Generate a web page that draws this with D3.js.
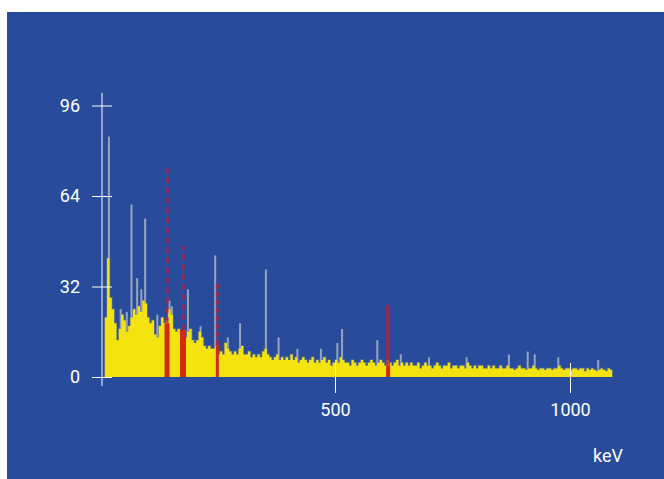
<!DOCTYPE html>
<html>
<head>
<meta charset="utf-8">
<script src="https://cdn.jsdelivr.net/npm/d3@7"></script>
<style>
  html, body { margin: 0; padding: 0; background: #fff; }
  svg { display: block; font-family: Roboto, 'Liberation Sans', sans-serif; }
</style>
</head>
<body>
<svg id="chart" width="664" height="479"></svg>
<script>
// spectrum continuum, 5 keV bins starting at 10 keV
const binStart = 10;
const binWidth = 5;
const counts = [
  21, 42, 28, 24, 19, 13, 17, 22, 20, 16,
  18, 21, 24, 22, 25, 23, 27, 26, 21, 19,
  20, 15, 14, 18, 21, 19, 20, 24, 22, 17,
  16, 17, 15, 16, 14, 16, 17, 13, 12, 13,
  16, 14, 11, 10, 11, 10, 10, 11, 8, 9,
  8, 12, 10, 9, 8, 9, 8, 10, 11, 8,
  8, 9, 7, 8, 7, 8, 7, 9, 10, 8,
  7, 6, 7, 8, 6, 7, 6, 7, 6, 8,
  6, 7, 5, 6, 7, 6, 5, 6, 7, 5,
  6, 5, 6, 7, 5, 6, 4, 5, 6, 5,
  7, 6, 5, 5, 4, 6, 5, 4, 5, 6,
  5, 4, 5, 6, 5, 4, 5, 6, 5, 4,
  6, 5, 4, 5, 6, 4, 5, 4, 5, 4,
  5, 4, 4, 5, 3, 4, 5, 4, 4, 3,
  4, 5, 4, 3, 4, 4, 5, 3, 4, 4,
  3, 4, 4, 3, 5, 4, 3, 4, 3, 4,
  4, 3, 3, 4, 3, 4, 3, 3, 4, 3,
  3, 4, 3, 3, 2.5, 3, 4, 3, 3, 2.5,
  3, 3, 4, 3, 2.5, 3, 3, 2.5, 3, 3,
  2.5, 3, 3, 4, 3, 2.5, 3, 3, 2.5, 3,
  3, 2.5, 3, 3, 2, 3, 2.5, 3, 2.5, 2,
  2.5, 3, 2.5, 2, 3, 2.5
];

// narrow peaks (grey spikes)
const peakEnergies = [19, 44, 57, 67, 79, 88, 96, 122, 148, 153, 187, 214, 245, 272, 298, 353, 380, 420, 470, 505, 515, 590, 640, 700, 780, 870, 910, 925, 975, 1060];
const peakCounts = [85, 24, 23, 61, 35, 31, 56, 22, 27, 25, 31, 18, 43, 14, 19, 38, 14, 10, 10, 12, 17, 13, 8, 7, 7, 8, 9, 8, 7, 6];

// identified lines (red)
const lineEnergies = [142.6, 176.6, 249.6, 613];
const lineBase = [19, 16.6, 11.3, 4];
const lineTop = [74, 46.6, 34, 25.4];

const xTicks = [500, 1000];
const yTicks = [0, 32, 64, 96];
const xUnit = 'keV';

// styles
const colors = {
  bg: '#284c9b',
  fill: '#f4e30f',
  edge: '#8c9486',
  peak: '#b9c1cc',
  red: '#d2290f',
  redThin: '#b01f45',
  axis: '#ffffff'
};
const redWidths = [5, 6, 3, 4];
const redDash = ['6,4', '6,4', '5,3', null];

const svg = d3.select('#chart');

svg.append('rect')
  .attr('x', 7).attr('y', 12)
  .attr('width', 657).attr('height', 467)
  .attr('fill', colors.bg);

const x = d3.scaleLinear().domain([0, 1100]).range([100, 617]);
const y = d3.scaleLinear().domain([0, 96]).range([377, 105.5]);

// grey spikes behind the continuum
svg.append('g')
  .selectAll('line')
  .data(peakEnergies)
  .join('line')
  .attr('x1', d => x(d)).attr('x2', d => x(d))
  .attr('y1', y(0))
  .attr('y2', (d, i) => y(peakCounts[i]))
  .attr('stroke', colors.peak)
  .attr('stroke-opacity', 0.75)
  .attr('stroke-width', 2);

const bins = counts.map((c, i) => ({ e: binStart + i * binWidth, c }));
bins.push({ e: binStart + counts.length * binWidth, c: counts[counts.length - 1] });

const area = d3.area()
  .curve(d3.curveStepAfter)
  .x(d => x(d.e))
  .y0(y(0))
  .y1(d => y(d.c));

// soft darker fringe along the top of the continuum
svg.append('path')
  .datum(bins)
  .attr('fill', 'none')
  .attr('stroke', colors.edge)
  .attr('stroke-opacity', 0.5)
  .attr('stroke-width', 1.5)
  .attr('d', area.lineY1());

svg.append('path')
  .datum(bins)
  .attr('fill', colors.fill)
  .attr('d', area);

// red lines: thin upper part then thick base
const red = svg.append('g');
lineEnergies.forEach((e, i) => {
  red.append('line')
    .attr('x1', x(e)).attr('x2', x(e))
    .attr('y1', y(lineBase[i])).attr('y2', y(lineTop[i]))
    .attr('stroke', colors.redThin)
    .attr('stroke-width', redDash[i] ? 3 : redWidths[i])
    .attr('stroke-opacity', 0.8)
    .attr('stroke-dasharray', redDash[i]);
  red.append('line')
    .attr('x1', x(e)).attr('x2', x(e))
    .attr('y1', y(0)).attr('y2', y(lineBase[i]))
    .attr('stroke', colors.red)
    .attr('stroke-width', redWidths[i]);
});

// y axis
const yAxis = d3.axisLeft(y)
  .tickValues(yTicks)
  .tickSizeInner(10)
  .tickSizeOuter(0)
  .tickPadding(12);

const gy = svg.append('g')
  .attr('transform', 'translate(102,0)')
  .call(yAxis);
gy.select('.domain').remove();
gy.selectAll('.tick line').attr('x1', 10).attr('x2', -10).attr('stroke', colors.axis);
gy.selectAll('.tick text').attr('fill', colors.axis).style('font-size', '18px').style('font-family', 'Roboto');
gy.append('line')
  .attr('y1', y(100.5)).attr('y2', y(-3.2))
  .attr('stroke', colors.axis);

// x axis: ticks only
const xAxis = d3.axisBottom(x)
  .tickValues(xTicks)
  .tickFormat(d3.format('d'))
  .tickSizeInner(15)
  .tickSizeOuter(0)
  .tickPadding(10);

const gx = svg.append('g')
  .attr('transform', `translate(0,${y(0) + 1})`)
  .call(xAxis);
gx.select('.domain').remove();
gx.selectAll('.tick line').attr('y1', -15).attr('stroke', colors.axis);
gx.selectAll('.tick text').attr('fill', colors.axis).style('font-size', '18px').style('font-family', 'Roboto');

svg.append('text')
  .attr('x', 608).attr('y', 462)
  .attr('text-anchor', 'middle')
  .attr('fill', colors.axis)
  .style('font-size', '18px')
  .text(xUnit);
</script>
</body>
</html>
